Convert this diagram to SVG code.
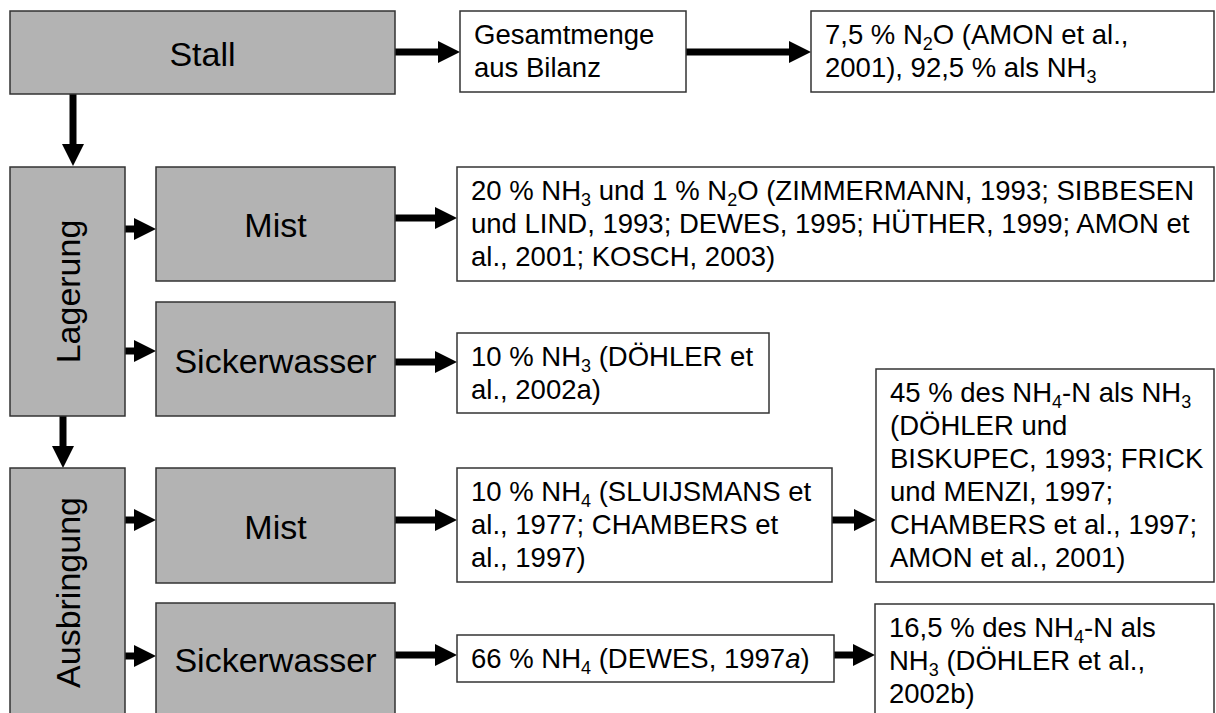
<svg xmlns="http://www.w3.org/2000/svg" width="1216" height="713" viewBox="0 0 1216 713">
<style>
  .g { fill: #b3b3b3; stroke: #333333; stroke-width: 1.5; }
  .w { fill: #ffffff; stroke: #333333; stroke-width: 1.5; }
  .big { font-family: "Liberation Sans", Arial, sans-serif; font-size: 34px; fill: #000; text-anchor: middle; }
  .t { font-family: "Liberation Sans", Arial, sans-serif; font-size: 27.5px; fill: #000; }
  .s { font-size: 18px; }
  .c { fill: none; stroke: #000; stroke-width: 7; marker-end: url(#ah); }
</style>
<defs>
  <marker id="ah" markerUnits="userSpaceOnUse" markerWidth="22" markerHeight="22" viewBox="0 0 22 22" refX="0" refY="11" orient="auto">
    <path d="M0,0 L22,11 L0,22 Z" fill="#000"/>
  </marker>
</defs>
<rect width="1216" height="713" fill="#ffffff"/>

<g id="connectors">
  <path class="c" d="M395,52 H438"/>
  <path class="c" d="M686,52 H789"/>
  <path class="c" d="M73,94 V144"/>
  <path class="c" d="M125,229 H134"/>
  <path class="c" d="M125,351 H134"/>
  <path class="c" d="M395,218 H435"/>
  <path class="c" d="M395,362 H435"/>
  <path class="c" d="M63,416 V446"/>
  <path class="c" d="M125,520 H134"/>
  <path class="c" d="M125,656 H134"/>
  <path class="c" d="M395,520 H435"/>
  <path class="c" d="M395,655 H435"/>
  <path class="c" d="M832,520 H854"/>
  <path class="c" d="M834,655 H853"/>
</g>

<g id="stall">
  <rect class="g" x="10" y="11" width="385" height="83"/>
  <text class="big" x="202.5" y="66">Stall</text>
</g>
<g id="gesamtmenge">
  <rect class="w" x="460" y="11" width="226" height="81"/>
  <text class="t" x="474" y="44">Gesamtmenge</text>
  <text class="t" x="474" y="77">aus Bilanz</text>
</g>
<g id="stall-emission">
  <rect class="w" x="811" y="11" width="403" height="81"/>
  <text class="t" x="825" y="44">7,5 % N<tspan class="s" dy="6">2</tspan><tspan dy="-6">O (AMON et al.,</tspan></text>
  <text class="t" x="825" y="77">2001), 92,5 % als NH<tspan class="s" dy="6">3</tspan></text>
</g>

<g id="lagerung">
  <rect class="g" x="10" y="167" width="115" height="249"/>
  <text class="big" transform="translate(80,291.5) rotate(-90)">Lagerung</text>
</g>
<g id="lagerung-mist">
  <rect class="g" x="156" y="167" width="239" height="114"/>
  <text class="big" x="275.5" y="237">Mist</text>
</g>
<g id="lagerung-mist-emission">
  <rect class="w" x="457" y="167" width="757" height="114"/>
  <text class="t" x="471" y="200">20 % NH<tspan class="s" dy="6">3</tspan><tspan dy="-6"> und 1 % N</tspan><tspan class="s" dy="6">2</tspan><tspan dy="-6">O (ZIMMERMANN, 1993; SIBBESEN</tspan></text>
  <text class="t" x="471" y="233">und LIND, 1993; DEWES, 1995; HÜTHER, 1999; AMON et</text>
  <text class="t" x="471" y="266">al., 2001; KOSCH, 2003)</text>
</g>
<g id="lagerung-sickerwasser">
  <rect class="g" x="156" y="302" width="239" height="114"/>
  <text class="big" x="275.5" y="373">Sickerwasser</text>
</g>
<g id="lagerung-sickerwasser-emission">
  <rect class="w" x="457" y="333" width="312" height="80"/>
  <text class="t" x="471" y="366">10 % NH<tspan class="s" dy="6">3</tspan><tspan dy="-6"> (DÖHLER et</tspan></text>
  <text class="t" x="471" y="399">al., 2002a)</text>
</g>

<g id="ausbringung">
  <rect class="g" x="10" y="468" width="115" height="250"/>
  <text class="big" transform="translate(80,592.5) rotate(-90)">Ausbringung</text>
</g>
<g id="ausbringung-mist">
  <rect class="g" x="156" y="468" width="239" height="115"/>
  <text class="big" x="275.5" y="539">Mist</text>
</g>
<g id="ausbringung-mist-nh4">
  <rect class="w" x="457" y="468" width="375" height="114"/>
  <text class="t" x="471" y="501">10 % NH<tspan class="s" dy="6">4</tspan><tspan dy="-6"> (SLUIJSMANS et</tspan></text>
  <text class="t" x="471" y="534">al., 1977; CHAMBERS et</text>
  <text class="t" x="471" y="567">al., 1997)</text>
</g>
<g id="ausbringung-mist-nh3">
  <rect class="w" x="876" y="369" width="338" height="213"/>
  <text class="t" x="890" y="402">45 % des NH<tspan class="s" dy="6">4</tspan><tspan dy="-6">-N als NH</tspan><tspan class="s" dy="6">3</tspan></text>
  <text class="t" x="890" y="435">(DÖHLER und</text>
  <text class="t" x="890" y="468">BISKUPEC, 1993; FRICK</text>
  <text class="t" x="890" y="501">und MENZI, 1997;</text>
  <text class="t" x="890" y="534">CHAMBERS et al., 1997;</text>
  <text class="t" x="890" y="567">AMON et al., 2001)</text>
</g>
<g id="ausbringung-sickerwasser">
  <rect class="g" x="156" y="603" width="239" height="115"/>
  <text class="big" x="275.5" y="672">Sickerwasser</text>
</g>
<g id="ausbringung-sickerwasser-nh4">
  <rect class="w" x="457" y="635" width="377" height="47"/>
  <text class="t" x="471" y="668">66 % NH<tspan class="s" dy="6">4</tspan><tspan dy="-6"> (DEWES, 1997</tspan><tspan font-style="italic">a</tspan>)</text>
</g>
<g id="ausbringung-sickerwasser-nh3">
  <rect class="w" x="875" y="604" width="339" height="114"/>
  <text class="t" x="889" y="637">16,5 % des NH<tspan class="s" dy="6">4</tspan><tspan dy="-6">-N als</tspan></text>
  <text class="t" x="889" y="670">NH<tspan class="s" dy="6">3</tspan><tspan dy="-6"> (DÖHLER et al.,</tspan></text>
  <text class="t" x="889" y="703">2002b)</text>
</g>
</svg>
